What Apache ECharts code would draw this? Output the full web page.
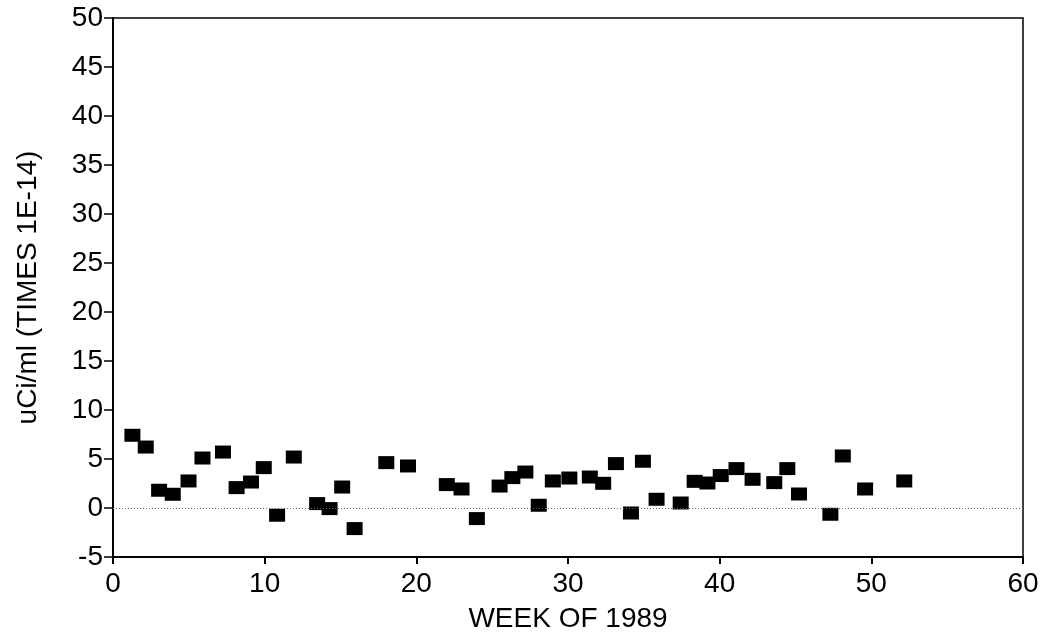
<!DOCTYPE html>
<html>
<head>
<meta charset="utf-8">
<script src="https://cdn.jsdelivr.net/npm/echarts@6/dist/echarts.min.js"></script>
<style>html,body{margin:0;padding:0;background:#fff;}#c{width:1049px;height:639px;}</style>
</head>
<body>
<div id="c"></div>
<script>
const weeks = [1.28,2.16,3.04,3.94,4.98,5.90,7.25,8.15,9.10,9.94,10.82,11.92,13.46,14.28,15.11,15.93,18.02,19.45,
  22.01,22.98,23.99,25.49,26.33,27.19,28.07,29.00,30.09,31.44,32.32,33.16,34.15,34.94,35.84,37.43,38.35,39.19,
  40.07,41.11,42.17,43.60,44.46,45.23,47.30,48.12,49.59,52.17];
const values = [7.42,6.22,1.81,1.40,2.76,5.10,5.71,2.08,2.65,4.12,-0.74,5.20,0.45,-0.06,2.14,-2.10,4.63,4.29,
  2.39,1.94,-1.08,2.24,3.10,3.67,0.28,2.76,3.06,3.16,2.52,4.53,-0.51,4.77,0.89,0.51,2.72,2.55,
  3.31,4.02,2.93,2.59,4.02,1.43,-0.64,5.31,1.94,2.76];
const xTicks = [0,10,20,30,40,50,60];
const yTicks = [-5,0,5,10,15,20,25,30,35,40,45,50];
const xTitle = 'WEEK OF 1989';
const yTitle = 'uCi/ml (TIMES 1E-14)';

const pts = weeks.map((w,i)=>[w, values[i]]);
const chart = echarts.init(document.getElementById('c'), null, {renderer:'canvas'});
const font = 'Liberation Sans, Arial, sans-serif';
chart.setOption({
  animation:false,
  backgroundColor:'#fff',
  grid:{left:113, right:26, top:18, bottom:82, show:true, borderColor:'#000', borderWidth:1.5, backgroundColor:'transparent'},
  xAxis:{type:'value', min:xTicks[0], max:xTicks[xTicks.length-1], interval:10,
    name:xTitle, nameLocation:'middle', nameGap:48,
    nameTextStyle:{fontFamily:font, fontSize:28, color:'#000'},
    axisLine:{show:true, onZero:false, lineStyle:{color:'#000', width:2}},
    axisTick:{show:true, length:7, lineStyle:{color:'#000', width:2}},
    axisLabel:{fontFamily:font, fontSize:28, color:'#000', margin:13},
    splitLine:{show:false}},
  yAxis:{type:'value', min:yTicks[0], max:yTicks[yTicks.length-1], interval:5,
    name:yTitle, nameLocation:'middle', nameGap:71, nameRotate:90,
    nameTextStyle:{fontFamily:font, fontSize:28, color:'#000'},
    axisLine:{show:true, onZero:false, lineStyle:{color:'#000', width:2}},
    axisTick:{show:true, length:9, lineStyle:{color:'#000', width:1.5}},
    axisLabel:{fontFamily:font, fontSize:28, color:'#000', margin:10},
    splitLine:{show:false}},
  series:[{type:'scatter', data:pts, symbol:'rect', symbolSize:[16,13],
    itemStyle:{color:'#000', opacity:1},
    markLine:{silent:true, symbol:'none', label:{show:false},
      lineStyle:{type:[1,2], color:'#666', width:1},
      data:[{yAxis:0}]}}]
});
</script>
</body>
</html>
